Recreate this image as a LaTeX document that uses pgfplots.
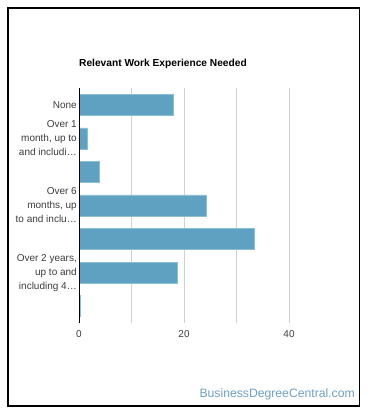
\documentclass[border=0pt]{standalone}
\usepackage{pgfplots}
\pgfplotsset{compat=1.18}
\usepackage{fontspec}
\setmainfont{Liberation Sans}
\definecolor{barblue}{RGB}{94,161,192}
\definecolor{baredge}{RGB}{140,190,212}
\definecolor{wm}{RGB}{110,160,195}
\definecolor{lbl}{RGB}{60,60,60}
\begin{document}
\begin{tikzpicture}[x=1pt,y=1pt]
\path[use as bounding box] (0,0) rectangle (370,417);
\draw[line width=1.3pt] (8,409) rectangle (359.5,11);
\node[anchor=west,inner sep=0pt,font=\fontsize{10.2}{12}\selectfont\bfseries] at (79,353) {Relevant Work Experience Needed};
\node[anchor=east,inner sep=0pt,font=\fontsize{12.2}{14}\selectfont,text=wm] at (355,23) {BusinessDegreeCentral.com};
\begin{axis}[
  at={(210.25pt,211.5pt)}, anchor=center,
  scale only axis, width=262.5pt, height=235pt,
  xbar, bar width=21pt,
  xmin=0, xmax=50,
  ymin=-0.5, ymax=6.5, y dir=reverse,
  axis line style={draw=none},
  xtick={0,10,20,30,40},
  xticklabels={0,,20,,40},
  xmajorgrids, grid style={draw=black!18, line width=0.6pt},
  major tick length=0pt,
  ytick={0,1,2,3,4,5,6},
  yticklabels={None,{Over 1\\month, up to\\and includi…},,{Over 6\\months, up\\to and inclu…},,{Over 2 years,\\up to and\\including 4…},},
  yticklabel style={align=right, font=\fontsize{10}{14}\selectfont, text=lbl, inner sep=2pt},
  xticklabel style={font=\fontsize{10}{11}\selectfont, text=lbl, yshift=-4pt},
  /pgf/number format/assume math mode=true,
  clip=false,
]
\addplot[fill=barblue, draw=baredge, line width=0.6pt] coordinates {
 (17.9,0) (1.5,1) (3.9,2) (24.3,3) (33.4,4) (18.7,5) (0.25,6)};
\draw[black, line width=0.8pt] (axis cs:0,-0.5) -- (axis cs:0,6.5);
\end{axis}
\end{tikzpicture}
\end{document}
